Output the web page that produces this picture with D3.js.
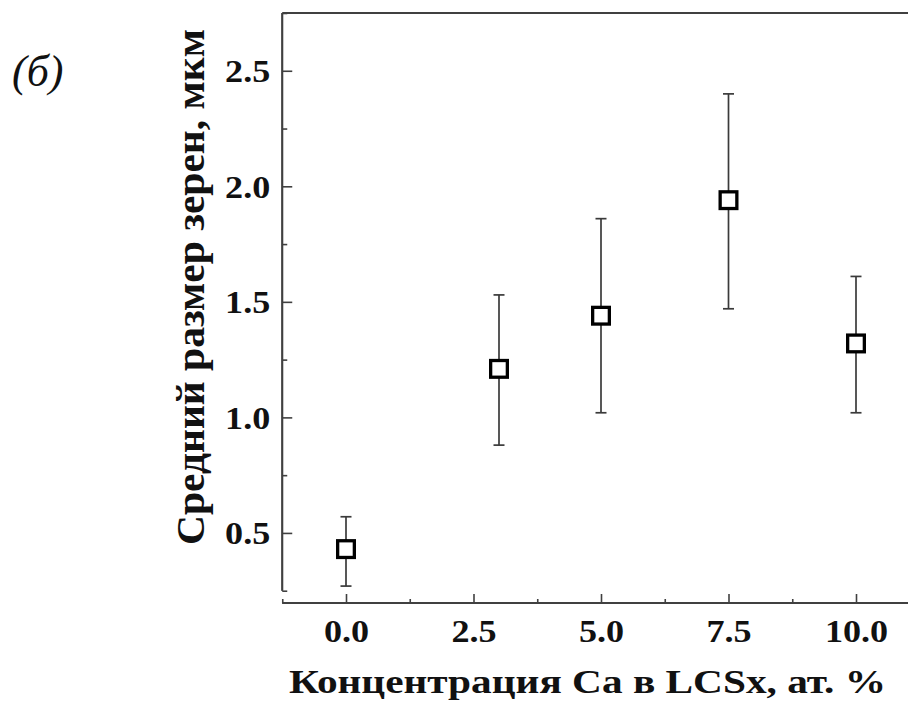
<!DOCTYPE html>
<html>
<head>
<meta charset="utf-8">
<script src="https://cdn.jsdelivr.net/npm/d3@7"></script>
<style>
  body { margin: 0; background: #fff; }
  text { font-family: "Liberation Serif", "Times New Roman", serif; fill: #111; }
</style>
</head>
<body>
<svg id="chart" width="908" height="702"></svg>
<script>
// Mean grain size vs. Ca concentration, with error bars
const concentration = [0, 3, 5, 7.5, 10];
const grainSize     = [0.43, 1.21, 1.44, 1.94, 1.32];
const errLower      = [0.27, 0.88, 1.02, 1.47, 1.02];
const errUpper      = [0.57, 1.53, 1.86, 2.40, 1.61];

const xTicks      = [0, 2.5, 5, 7.5, 10];
const xTickLabels = ["0.0", "2.5", "5.0", "7.5", "10.0"];
const yTicks      = [0.5, 1.0, 1.5, 2.0, 2.5];
const yTickLabels = ["0.5", "1.0", "1.5", "2.0", "2.5"];
const xMinorTicks = [-1.25, 1.25, 3.75, 6.25, 8.75, 11.25];
const yMinorTicks = [0.25, 0.75, 1.25, 1.75, 2.25, 2.75];

const xTitle = "Концентрация Ca в LCSx, ат. %";
const yTitle = "Средний размер зерен, мкм";
const panelLabel = "(б)";

const svg = d3.select("#chart");
const axisColor = "#404040";
const stretch = 1.13;           // wide bold serif lettering

const x = d3.scaleLinear().domain([-1.25, 11.25]).range([282.25, 919.75]);
const y = d3.scaleLinear().domain([0.25, 2.75]).range([590.7, 13]);
const xAxisY = 603;

// top frame line
svg.append("line")
  .attr("x1", x(-1.25)).attr("x2", x(11.25))
  .attr("y1", y(2.75)).attr("y2", y(2.75))
  .attr("stroke", axisColor).attr("stroke-width", 1.8);

// bottom axis (offset below the plotting area)
const gx = svg.append("g").attr("transform", `translate(0,${xAxisY})`);
gx.call(d3.axisBottom(x).tickValues(xMinorTicks).tickSize(-4).tickFormat(""));
gx.call(g => g.append("g").call(
  d3.axisBottom(x).tickValues(xTicks).tickSize(-9)
    .tickFormat((d, i) => xTickLabels[i]).tickPadding(0)));
gx.selectAll(".domain").attr("stroke", axisColor).attr("stroke-width", 1.8)
  .attr("d", `M${x(-1.25)},0H${x(11.25)}`);
gx.selectAll(".tick line").attr("stroke", axisColor).attr("stroke-width", 1.6);
gx.selectAll(".tick text")
  .attr("y", 39.5).attr("dy", null)
  .attr("transform", `scale(${stretch},1)`)
  .style("font-size", "32px").style("font-weight", "bold").attr("fill", "#111");

// left axis
const gy = svg.append("g").attr("transform", `translate(${x(-1.25)},0)`);
gy.call(d3.axisLeft(y).tickValues(yMinorTicks).tickSize(-5).tickFormat(""));
gy.call(g => g.append("g").call(
  d3.axisLeft(y).tickValues(yTicks).tickSize(-10)
    .tickFormat((d, i) => yTickLabels[i])));
gy.selectAll(".domain").attr("stroke", axisColor).attr("stroke-width", 1.8)
  .attr("d", `M0,${y(0.25)}V${y(2.75)}`);
gy.selectAll(".tick line").attr("stroke", axisColor).attr("stroke-width", 1.6);
gy.selectAll(".tick text")
  .attr("x", -12 / stretch).attr("dy", "0.34em")
  .attr("transform", `scale(${stretch},1)`)
  .attr("text-anchor", "end")
  .style("font-size", "32px").style("font-weight", "bold").attr("fill", "#111");
svg.selectAll(".tick text").attr("font-family", null);

// error bars
const pts = concentration.map((c, i) => ({ c, v: grainSize[i], lo: errLower[i], hi: errUpper[i] }));
const eb = svg.append("g").attr("stroke", "#3a3a3a").attr("stroke-width", 1.7);
eb.selectAll("line.stem").data(pts).join("line").attr("class", "stem")
  .attr("x1", d => x(d.c)).attr("x2", d => x(d.c))
  .attr("y1", d => y(d.lo)).attr("y2", d => y(d.hi));
eb.selectAll("line.capHi").data(pts).join("line").attr("class", "capHi")
  .attr("x1", d => x(d.c) - 5.5).attr("x2", d => x(d.c) + 5.5)
  .attr("y1", d => y(d.hi)).attr("y2", d => y(d.hi));
eb.selectAll("line.capLo").data(pts).join("line").attr("class", "capLo")
  .attr("x1", d => x(d.c) - 5.5).attr("x2", d => x(d.c) + 5.5)
  .attr("y1", d => y(d.lo)).attr("y2", d => y(d.lo));

// open square markers
const side = 16.7;
svg.append("g").selectAll("rect").data(pts).join("rect")
  .attr("x", d => x(d.c) - side / 2).attr("y", d => y(d.v) - side / 2)
  .attr("width", side).attr("height", side)
  .attr("fill", "#fff").attr("stroke", "#000").attr("stroke-width", 3.3);

// axis titles
svg.append("text")
  .attr("x", 587.5).attr("y", 693)
  .attr("text-anchor", "middle")
  .attr("textLength", 597).attr("lengthAdjust", "spacingAndGlyphs")
  .style("font-size", "33px").style("font-weight", "bold")
  .text(xTitle);

svg.append("text")
  .attr("transform", `translate(204,287) scale(1.15,1) rotate(-90)`)
  .attr("text-anchor", "middle")
  .attr("textLength", 516).attr("lengthAdjust", "spacingAndGlyphs")
  .style("font-size", "35px").style("font-weight", "bold")
  .text(yTitle);

// panel label
svg.append("text")
  .attr("x", 12).attr("y", 85.5)
  .style("font-size", "44px").style("font-style", "italic")
  .text(panelLabel);
</script>
</body>
</html>
